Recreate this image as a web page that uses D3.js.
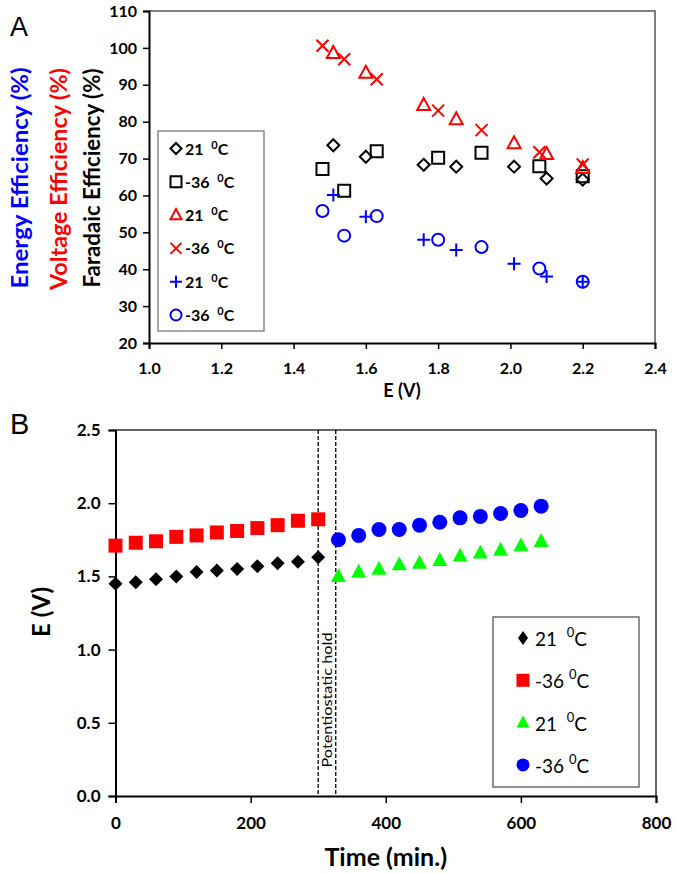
<!DOCTYPE html>
<html><head><meta charset="utf-8">
<script src="https://cdn.jsdelivr.net/npm/d3@7"></script>
<style>
body{margin:0;background:#fff;}
svg{display:block;font-family:Lato,"Open Sans",sans-serif;}
</style></head><body>
<svg id="c" width="677" height="874"></svg>
<script>
// ---------- Panel A data ----------
const aXTicks = [1.0,1.2,1.4,1.6,1.8,2.0,2.2,2.4];
const aYTicks = [20,30,40,50,60,70,80,90,100,110];
const faradaic21E  = [1.51,1.60,1.76,1.85,2.01,2.10,2.20];
const faradaic21   = [73.6,70.5,68.3,67.8,67.8,64.6,64.3];
const faradaicM36E = [1.48,1.54,1.63,1.80,1.92,2.08,2.20];
const faradaicM36  = [67.2,61.3,72.0,70.2,71.6,67.9,65.2];
const voltage21E   = [1.51,1.60,1.76,1.85,2.01,2.10,2.20];
const voltage21    = [98.6,93.2,84.5,80.6,74.1,71.2,67.4];
const voltageM36E  = [1.48,1.54,1.63,1.80,1.92,2.08,2.20];
const voltageM36   = [100.6,96.9,91.5,83.0,77.7,71.7,68.4];
const energy21E    = [1.51,1.60,1.76,1.85,2.01,2.10,2.20];
const energy21     = [60.1,54.2,48.0,45.2,41.5,38.0,36.6];
const energyM36E   = [1.48,1.54,1.63,1.80,1.92,2.08,2.20];
const energyM36    = [55.8,49.1,54.4,48.0,46.0,40.2,36.6];
const aLegend = ["21  ","-36  ","21  ","-36  ","21  ","-36  "];

// ---------- Panel B data ----------
const bXTicks = [0,200,400,600,800];
const bYTicks = [0.0,0.5,1.0,1.5,2.0,2.5];
const timeFirst  = [0,30,60,90,120,150,180,210,240,270,300];
const e21First   = [1.45,1.46,1.48,1.50,1.53,1.54,1.55,1.57,1.59,1.60,1.63];
const eM36First  = [1.71,1.73,1.74,1.77,1.78,1.80,1.81,1.83,1.85,1.88,1.89];
const timeSecond = [330,360,390,420,450,480,510,540,570,600,630];
const e21Second  = [1.50,1.53,1.55,1.58,1.59,1.61,1.64,1.66,1.68,1.71,1.74];
const eM36Second = [1.75,1.78,1.82,1.82,1.85,1.87,1.90,1.91,1.93,1.95,1.98];
const holdTimes  = [300,326];
const bLegend = ["21  ","-36 ","21  ","-36 "];

const svg = d3.select("#c");
const RED="#ff0000", BLUE="#0000ff", GREEN="#00ff00";

// symbol path generators (r = half-width)
const sym = {
  diamond:r=>`M0,${-r}L${r},0L0,${r}L${-r},0Z`,
  square:r=>`M${-r},${-r}H${r}V${r}H${-r}Z`,
  triangle:r=>`M0,${-r*1.1}L${r},${r*0.75}L${-r},${r*0.75}Z`,
  times:r=>`M${-r},${-r}L${r},${r}M${r},${-r}L${-r},${r}`,
  plus:r=>`M${-r},0H${r}M0,${-r}V${r}`,
  circle:r=>`M${r},0A${r},${r} 0 1,1 ${-r},0A${r},${r} 0 1,1 ${r},0Z`
};

// ================= Panel A =================
const A = {l:149,r:655,t:11,b:343};
const ax = d3.scaleLinear().domain([1.0,2.4]).range([A.l,A.r]);
const ay = d3.scaleLinear().domain([20,110]).range([A.b,A.t]);
const gA = svg.append("g");
gA.append("path").attr("d",`M${A.l},${A.t}H${A.r}V${A.b}`).attr("fill","none").attr("stroke","#555").attr("stroke-width",1.5);
const axA = gA.append("g").attr("transform",`translate(0,${A.b})`).call(d3.axisBottom(ax).tickValues(aXTicks).tickFormat(d3.format(".1f")).tickSize(6).tickPadding(14));
const ayA = gA.append("g").attr("transform",`translate(${A.l},0)`).call(d3.axisLeft(ay).tickValues(aYTicks).tickFormat(d3.format("d")).tickSize(6).tickPadding(4));
[axA,ayA].forEach(g=>{g.select(".domain").attr("stroke","#000").attr("stroke-width",2);
  g.selectAll(".tick line").attr("stroke","#000").attr("stroke-width",1.5);
  g.selectAll("text").attr("font-size",16).attr("font-weight","bold").attr("fill","#000").attr("font-family","Lato,sans-serif");});
ayA.selectAll("text").attr("dx",-2);

const seriesA = [
 {x:faradaic21E,y:faradaic21,s:"diamond",c:"#000",r:6},
 {x:faradaicM36E,y:faradaicM36,s:"square",c:"#000",r:6},
 {x:voltage21E,y:voltage21,s:"triangle",c:RED,r:6.5},
 {x:voltageM36E,y:voltageM36,s:"times",c:RED,r:6},
 {x:energy21E,y:energy21,s:"plus",c:BLUE,r:6.5},
 {x:energyM36E,y:energyM36,s:"circle",c:BLUE,r:6}
];
seriesA.forEach(se=>{
  gA.append("g").selectAll("path").data(se.x.map((v,i)=>[v,se.y[i]])).join("path")
    .attr("transform",d=>`translate(${ax(d[0])},${ay(d[1])})`)
    .attr("d",sym[se.s](se.r)).attr("fill","none").attr("stroke",se.c).attr("stroke-width",2);
});
// legend A
const lgA = gA.append("g");
lgA.append("rect").attr("x",158).attr("y",131).attr("width",106).attr("height",200).attr("fill","#fff").attr("stroke","#777").attr("stroke-width",1.3);
seriesA.forEach((se,i)=>{
  const y = 148.5 + i*33.3;
  lgA.append("path").attr("transform",`translate(176,${y})`).attr("d",sym[se.s](se.s==="plus"?6:5.5)).attr("fill","none").attr("stroke",se.c).attr("stroke-width",2);
  const t = lgA.append("text").attr("x",185).attr("y",y+6).attr("font-size",16).attr("font-weight","bold").attr("fill","#000").attr("xml:space","preserve");
  t.append("tspan").text(aLegend[i]);
  t.append("tspan").attr("font-size",11).attr("dy",-6).text("0");
  t.append("tspan").attr("dy",6).text("C");
});
// axis titles A
gA.append("text").attr("x",(A.l+A.r)/2).attr("y",397).attr("text-anchor","middle").attr("font-size",18).attr("font-weight","bold").text("E (V)");
const yTitles = [
 {x:28, c:178, len:221, parts:[["Energy Efficiency ",BLUE],["(%)",BLUE]]},
 {x:67, c:179, len:222, parts:[["Voltage Efficiency ",RED],["(%)",RED]]},
 {x:100,c:178, len:219, parts:[["Faradaic Efficiency ","#000"],["(%)","#000"]]}
];
yTitles.forEach(tt=>{
  const t = gA.append("text").attr("transform",`translate(${tt.x},${tt.c}) rotate(-90)`).attr("text-anchor","middle")
    .attr("font-size",22).attr("font-weight","bold").attr("xml:space","preserve")
    .attr("textLength",tt.len).attr("lengthAdjust","spacingAndGlyphs");
  tt.parts.forEach(p=>t.append("tspan").attr("fill",p[1]).text(p[0]));
});
svg.append("text").attr("x",10).attr("y",36).attr("font-size",27).attr("font-family","Liberation Sans,Arial,sans-serif").text("A");

// ================= Panel B =================
const B = {l:115.5,r:656,t:430,b:796};
const bx = d3.scaleLinear().domain([0,800]).range([B.l,B.r]);
const by = d3.scaleLinear().domain([0,2.5]).range([B.b,B.t]);
const gB = svg.append("g");
gB.append("path").attr("d",`M${B.l},${B.t}H${B.r}V${B.b}`).attr("fill","none").attr("stroke","#333").attr("stroke-width",1.5);
const axB = gB.append("g").attr("transform",`translate(0,${B.b})`).call(d3.axisBottom(bx).tickValues(bXTicks).tickFormat(d3.format("d")).tickSize(7).tickPadding(14));
const ayB = gB.append("g").attr("transform",`translate(${B.l},0)`).call(d3.axisLeft(by).tickValues(bYTicks).tickFormat(d3.format(".1f")).tickSize(7).tickPadding(8));
[axB,ayB].forEach(g=>{g.select(".domain").attr("stroke","#000").attr("stroke-width",2);
  g.selectAll(".tick line").attr("stroke","#000").attr("stroke-width",1.5);
  g.selectAll("text").attr("font-size",17).attr("font-weight","bold").attr("fill","#000").attr("font-family","Lato,sans-serif");});
// dashed hold lines
gB.selectAll("line.hold").data(holdTimes).join("line").attr("class","hold")
  .attr("x1",d=>bx(d)).attr("x2",d=>bx(d)).attr("y1",B.t).attr("y2",B.b)
  .attr("stroke","#000").attr("stroke-width",1.3).attr("stroke-dasharray","4,2");
gB.append("text").attr("transform",`translate(${bx((holdTimes[0]+holdTimes[1])/2)+5},700) rotate(-90)`).attr("text-anchor","middle")
  .attr("font-size",14).attr("textLength",135).attr("lengthAdjust","spacingAndGlyphs").text("Potentiostatic hold");

const seriesB = [
 {x:timeFirst,y:e21First,s:"diamond",c:"#000",r:7},
 {x:timeFirst,y:eM36First,s:"square",c:RED,r:7},
 {x:timeSecond,y:e21Second,s:"triangle",c:GREEN,r:7.5},
 {x:timeSecond,y:eM36Second,s:"circle",c:BLUE,r:7.5}
];
seriesB.forEach(se=>{
  gB.append("g").selectAll("path").data(se.x.map((v,i)=>[v,se.y[i]])).join("path")
    .attr("transform",d=>`translate(${bx(d[0])},${by(d[1])})`)
    .attr("d",sym[se.s](se.r)).attr("fill",se.c).attr("stroke","none");
});
const lgB = gB.append("g");
lgB.append("rect").attr("x",493).attr("y",617).attr("width",146).attr("height",170).attr("fill","#fff").attr("stroke","#555").attr("stroke-width",1.3);
seriesB.forEach((se,i)=>{
  const y = 638 + i*42.3;
  const r = 6.5;
  lgB.append("path").attr("transform",`translate(523,${y})`).attr("d",se.s==="diamond"?`M0,-7L5,0L0,7L-5,0Z`:sym[se.s](r)).attr("fill",se.c);
  const t = lgB.append("text").attr("x",535).attr("y",y+8).attr("font-size",19).attr("fill","#000").attr("xml:space","preserve");
  t.append("tspan").text(bLegend[i]);
  t.append("tspan").attr("font-size",13).attr("dy",-9).text("0");
  t.append("tspan").attr("dy",9).text("C");
});
gB.append("text").attr("x",(B.l+B.r)/2).attr("y",866).attr("text-anchor","middle").attr("font-size",25).attr("font-weight","bold").text("Time (min.)");
gB.append("text").attr("transform",`translate(50,612) rotate(-90)`).attr("text-anchor","middle").attr("font-size",24).attr("font-weight","bold").text("E (V)");
svg.append("text").attr("x",10).attr("y",434).attr("font-size",29).attr("font-family","Liberation Sans,Arial,sans-serif").text("B");
</script>
</body></html>
